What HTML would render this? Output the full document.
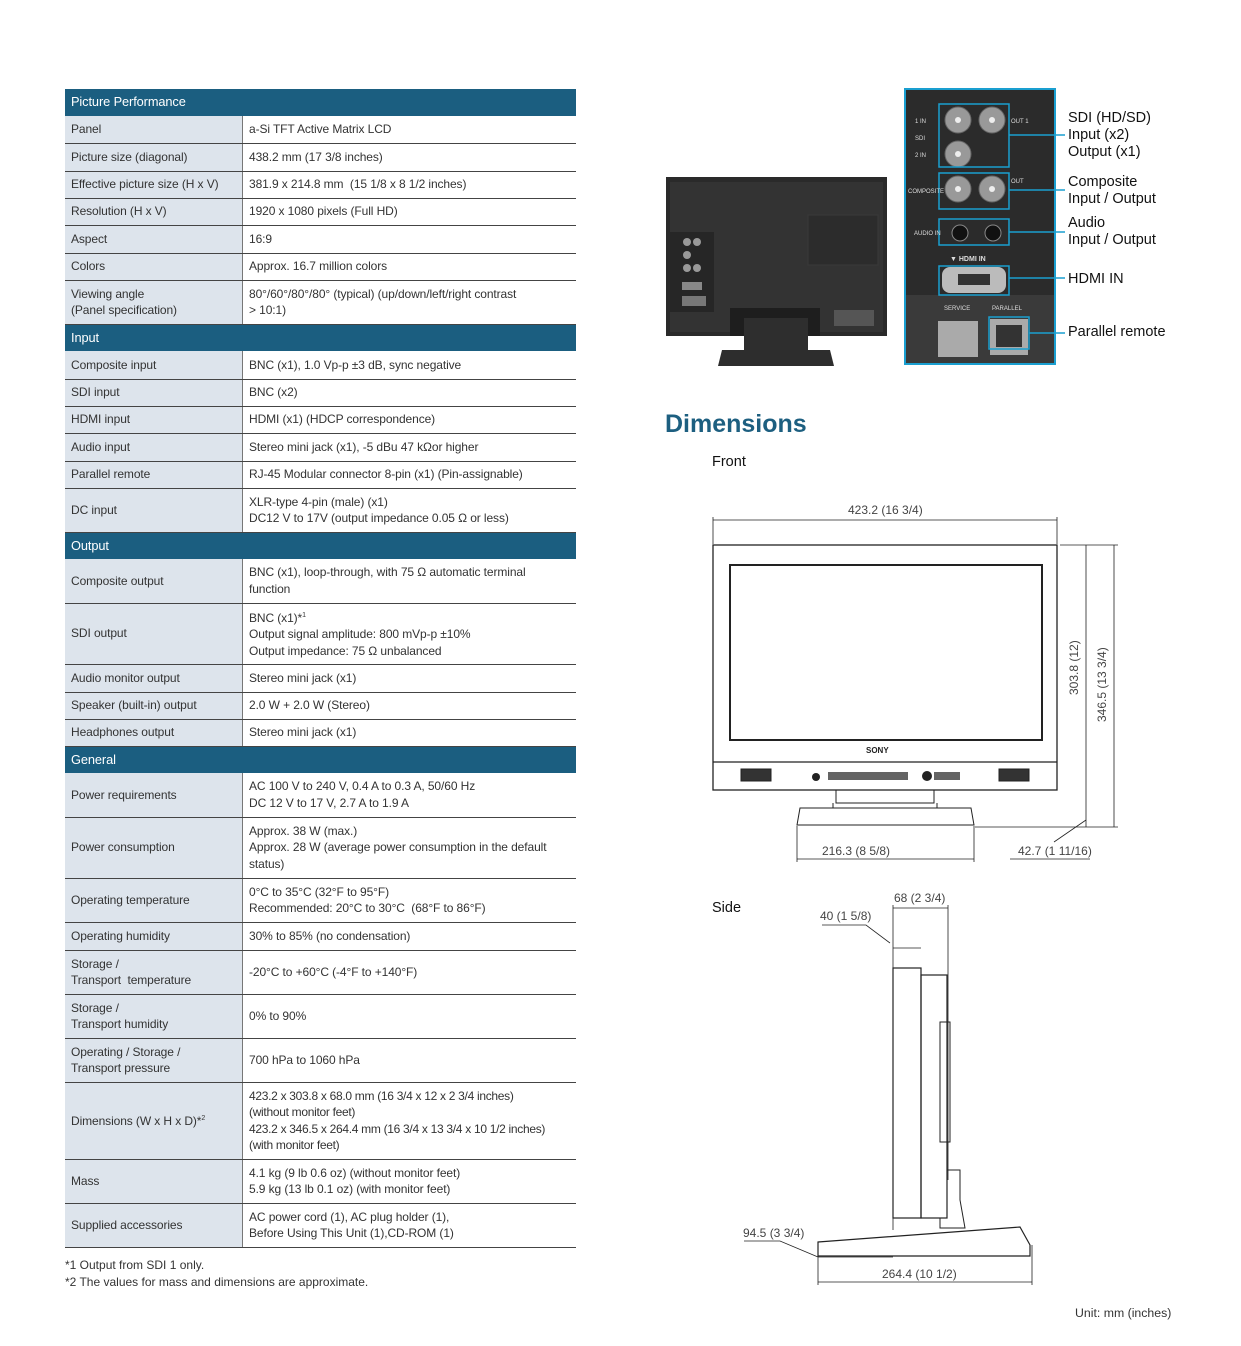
<!DOCTYPE html>
<html><head><meta charset="utf-8"><style>
body{margin:0;background:#fff;width:1241px;height:1346px;position:relative;font-family:"Liberation Sans",sans-serif;color:#333;overflow:hidden}
.t{position:absolute;left:65px;top:89px;width:511px;border-collapse:collapse;font-size:12px;letter-spacing:-0.1px}
.t td{padding:0 6px;border-bottom:1px solid #444;line-height:16.5px;vertical-align:middle;white-space:nowrap}
.t td.l{background:#dde4ec;width:165px;border-right:1px solid #777}
.t tr.h td{background:#1b5e80;color:#fff;font-size:12.8px;border-bottom:none}
.a{position:absolute;white-space:nowrap}
.lab{position:absolute;font-size:14.5px;color:#111;line-height:17px}
</style></head><body>
<table class="t">
<tr class="h" style="height:27px"><td colspan="2">Picture Performance</td></tr>
<tr style="height:27px"><td class="l">Panel</td><td>a-Si TFT Active Matrix LCD</td></tr>
<tr style="height:28px"><td class="l">Picture size (diagonal)</td><td>438.2 mm (17 3/8 inches)</td></tr>
<tr style="height:27px"><td class="l">Effective picture size (H x V)</td><td>381.9 x 214.8 mm &nbsp;(15 1/8 x 8 1/2 inches)</td></tr>
<tr style="height:27px"><td class="l">Resolution (H x V)</td><td>1920 x 1080 pixels (Full HD)</td></tr>
<tr style="height:28px"><td class="l">Aspect</td><td>16:9</td></tr>
<tr style="height:27px"><td class="l">Colors</td><td>Approx. 16.7 million colors</td></tr>
<tr style="height:44px"><td class="l">Viewing angle<br>(Panel specification)</td><td>80°/60°/80°/80° (typical) (up/down/left/right contrast<br>&gt; 10:1)</td></tr>
<tr class="h" style="height:27px"><td colspan="2">Input</td></tr>
<tr style="height:28px"><td class="l">Composite input</td><td>BNC (x1), 1.0 Vp-p ±3 dB, sync negative</td></tr>
<tr style="height:27px"><td class="l">SDI input</td><td>BNC (x2)</td></tr>
<tr style="height:27px"><td class="l">HDMI input</td><td>HDMI (x1) (HDCP correspondence)</td></tr>
<tr style="height:28px"><td class="l">Audio input</td><td>Stereo mini jack (x1), -5 dBu 47 kΩor higher</td></tr>
<tr style="height:27px"><td class="l">Parallel remote</td><td>RJ-45 Modular connector 8-pin (x1) (Pin-assignable)</td></tr>
<tr style="height:44px"><td class="l">DC input</td><td>XLR-type 4-pin (male) (x1)<br>DC12 V to 17V (output impedance 0.05 Ω or less)</td></tr>
<tr class="h" style="height:27px"><td colspan="2">Output</td></tr>
<tr style="height:44px"><td class="l">Composite output</td><td>BNC (x1), loop-through, with 75 Ω automatic terminal<br>function</td></tr>
<tr style="height:61px"><td class="l">SDI output</td><td>BNC (x1)*<sup style="font-size:7px">1</sup><br>Output signal amplitude: 800 mVp-p ±10%<br>Output impedance: 75 Ω unbalanced</td></tr>
<tr style="height:28px"><td class="l">Audio monitor output</td><td>Stereo mini jack (x1)</td></tr>
<tr style="height:27px"><td class="l">Speaker (built-in) output</td><td>2.0 W + 2.0 W (Stereo)</td></tr>
<tr style="height:27px"><td class="l">Headphones output</td><td>Stereo mini jack (x1)</td></tr>
<tr class="h" style="height:27px"><td colspan="2">General</td></tr>
<tr style="height:44px"><td class="l">Power requirements</td><td>AC 100 V to 240 V, 0.4 A to 0.3 A, 50/60 Hz<br>DC 12 V to 17 V, 2.7 A to 1.9 A</td></tr>
<tr style="height:61px"><td class="l">Power consumption</td><td>Approx. 38 W (max.)<br>Approx. 28 W (average power consumption in the default<br>status)</td></tr>
<tr style="height:44px"><td class="l">Operating temperature</td><td>0°C to 35°C (32°F to 95°F)<br>Recommended: 20°C to 30°C &nbsp;(68°F to 86°F)</td></tr>
<tr style="height:28px"><td class="l">Operating humidity</td><td>30% to 85% (no condensation)</td></tr>
<tr style="height:44px"><td class="l">Storage /<br>Transport &nbsp;temperature</td><td>-20°C to +60°C (-4°F to +140°F)</td></tr>
<tr style="height:44px"><td class="l">Storage /<br>Transport humidity</td><td>0% to 90%</td></tr>
<tr style="height:44px"><td class="l">Operating / Storage /<br>Transport pressure</td><td>700 hPa to 1060 hPa</td></tr>
<tr style="height:77px"><td class="l">Dimensions (W x H x D)*<sup style="font-size:7px">2</sup></td><td style="letter-spacing:-0.3px">423.2 x 303.8 x 68.0 mm (16 3/4 x 12 x 2 3/4 inches)<br>(without monitor feet)<br>423.2 x 346.5 x 264.4 mm (16 3/4 x 13 3/4 x 10 1/2 inches)<br>(with monitor feet)</td></tr>
<tr style="height:44px"><td class="l">Mass</td><td>4.1 kg (9 lb 0.6 oz) (without monitor feet)<br>5.9 kg (13 lb 0.1 oz) (with monitor feet)</td></tr>
<tr style="height:44px"><td class="l">Supplied accessories</td><td>AC power cord (1), AC plug holder (1),<br>Before Using This Unit (1),CD-ROM (1)</td></tr>
</table>
<div class="a" style="left:65px;top:1257px;font-size:12px;line-height:16.5px">*1 Output from SDI 1 only.<br>*2 The values for mass and dimensions are approximate.</div>
<div class="a" style="left:1075px;top:1306px;font-size:12.3px">Unit: mm (inches)</div>

<svg class="a" style="left:660px;top:170px" width="235" height="200">
<rect x="6" y="7" width="221" height="159" fill="#2a2a2a"/>
<rect x="10" y="12" width="213" height="150" fill="#333"/>
<rect x="10" y="62" width="44" height="80" fill="#262626"/>
<rect x="148" y="45" width="70" height="50" fill="#2c2c2c" stroke="#3a3a3a"/>
<rect x="70" y="138" width="90" height="28" fill="#1e1e1e"/>
<rect x="174" y="140" width="40" height="16" fill="#555"/>
<rect x="84" y="148" width="64" height="32" fill="#2e2e2e"/>
<path d="M58 196 L62 180 L170 180 L174 196 Z" fill="#2d2d2d"/>
<circle cx="27" cy="72" r="4" fill="#999"/><circle cx="37" cy="72" r="4" fill="#999"/><circle cx="27" cy="85" r="4" fill="#999"/>
<circle cx="27" cy="98" r="4" fill="#999"/><circle cx="37" cy="98" r="4" fill="#999"/>
<rect x="22" y="112" width="20" height="8" fill="#888"/><rect x="22" y="126" width="24" height="10" fill="#777"/>
</svg>
<svg class="a" style="left:900px;top:85px" width="290" height="285">
<rect x="5" y="4" width="150" height="275" fill="#2b2b2b" stroke="#1a9fd0" stroke-width="2"/>
<rect x="6" y="210" width="148" height="68" fill="#3a3a3a"/>
<g fill="#999" stroke="#666"><circle cx="58" cy="35" r="13"/><circle cx="92" cy="35" r="13"/><circle cx="58" cy="69" r="13"/><circle cx="58" cy="104" r="13"/><circle cx="92" cy="104" r="13"/></g>
<g fill="#eee"><circle cx="58" cy="35" r="3"/><circle cx="92" cy="35" r="3"/><circle cx="58" cy="69" r="3"/><circle cx="58" cy="104" r="3"/><circle cx="92" cy="104" r="3"/></g>
<circle cx="60" cy="148" r="8" fill="#111" stroke="#888"/><circle cx="93" cy="148" r="8" fill="#111" stroke="#888"/>
<rect x="42" y="182" width="64" height="26" rx="8" fill="#bbb"/><rect x="58" y="189" width="32" height="11" fill="#333"/>
<rect x="38" y="236" width="40" height="36" fill="#aaa"/><rect x="90" y="234" width="38" height="36" fill="#aaa"/><rect x="96" y="240" width="26" height="22" fill="#333"/>
<g fill="none" stroke="#1a9fd0" stroke-width="1.5">
<rect x="39" y="19" width="70" height="63"/><rect x="39" y="88" width="70" height="36"/><rect x="39" y="134" width="70" height="26"/><rect x="39" y="181" width="70" height="29"/><rect x="89" y="232" width="40" height="32"/>
<path d="M109 50H165M109 105H165M109 147H165M109 193H165M129 248H165"/></g>
<g fill="#ddd" font-size="6" font-family="Liberation Sans"><text x="15" y="38">1 IN</text><text x="15" y="55">SDI</text><text x="15" y="72">2 IN</text><text x="8" y="108">COMPOSITE</text><text x="14" y="150">AUDIO IN</text><text x="111" y="38">OUT 1</text><text x="111" y="98">OUT</text><text x="50" y="176" font-weight="bold" font-size="7">▼ HDMI IN</text><text x="44" y="225">SERVICE</text><text x="92" y="225">PARALLEL</text></g>
</svg>
<div class="lab" style="left:1068px;top:110px">SDI (HD/SD)<br>Input (x2)<br>Output (x1)</div>
<div class="lab" style="left:1068px;top:174px">Composite<br>Input / Output</div>
<div class="lab" style="left:1068px;top:215px">Audio<br>Input / Output</div>
<div class="lab" style="left:1068px;top:271px">HDMI IN</div>
<div class="lab" style="left:1068px;top:324px">Parallel remote</div>

<div class="a" style="left:665px;top:410px;font-size:25px;font-weight:bold;color:#1d5f80">Dimensions</div>
<div class="a" style="left:712px;top:454px;font-size:14.5px;color:#111">Front</div>
<div class="a" style="left:712px;top:900px;font-size:14.5px;color:#111">Side</div>

<svg class="a" style="left:0;top:0" width="1241" height="1346" font-family="Liberation Sans" font-size="12" fill="none" stroke="#222">
<g fill="#444" stroke="none">
<text x="848" y="514">423.2 (16 3/4)</text>
<text x="822" y="855">216.3 (8 5/8)</text>
<text x="1018" y="855">42.7 (1 11/16)</text>
<text transform="translate(1078,695) rotate(-90)">303.8 (12)</text>
<text transform="translate(1106,722) rotate(-90)">346.5 (13 3/4)</text>
<text x="894" y="902">68 (2 3/4)</text>
<text x="820" y="920">40 (1 5/8)</text>
<text x="743" y="1237">94.5 (3 3/4)</text>
<text x="882" y="1278">264.4 (10 1/2)</text>
<text x="866" y="753" font-weight="bold" font-size="8" fill="#222">SONY</text>
</g>
<path d="M713 517V544M1057 517V544M713 520H1057" stroke-width="0.8"/>
<rect x="713" y="545" width="344" height="245" stroke-width="1.3"/>
<rect x="730" y="565" width="312" height="175" stroke-width="2"/>
<path d="M713 762H1057" stroke-width="1.3"/>
<rect x="741" y="769" width="30" height="12" fill="#333"/><rect x="999" y="769" width="30" height="12" fill="#333"/>
<g fill="#222" stroke="none"><circle cx="816" cy="777" r="4"/><rect x="828" y="772" width="80" height="8" opacity=".7"/><circle cx="927" cy="776" r="5"/><rect x="934" y="772" width="26" height="8" opacity=".7"/></g>
<path d="M836 790V803H934V790M833 803V808H937V803M800 808L797 825H974L971 808Z" stroke-width="1"/>
<path d="M797 826V862M974 826V862M797 859H974M1010 859H1090M1086 820L1054 842" stroke-width="0.8"/>
<path d="M1060 545H1118M1060 827H1118M975 827H1118M1086 545V827M1114 545V827" stroke-width="0.8"/>
<path d="M893 945V1230M893 948H921M893 905V945M948 905V1180M893 908H948M822 925H866L890 943" stroke-width="0.8"/>
<rect x="893" y="968" width="28" height="250" stroke-width="1.2"/>
<rect x="921" y="975" width="26" height="243" stroke-width="1.2"/>
<rect x="940" y="1022" width="10" height="120" stroke-width="1"/>
<path d="M947 1170H960V1200L965 1228H940V1218" stroke-width="1"/>
<path d="M818 1242L1020 1227L1030 1245V1256H818Z" stroke-width="1.2"/>
<path d="M818 1245V1285M1032 1245V1285M818 1282H1032M818 1257H893M744 1241H780L818 1257" stroke-width="0.8"/>
</svg>
</body></html>
